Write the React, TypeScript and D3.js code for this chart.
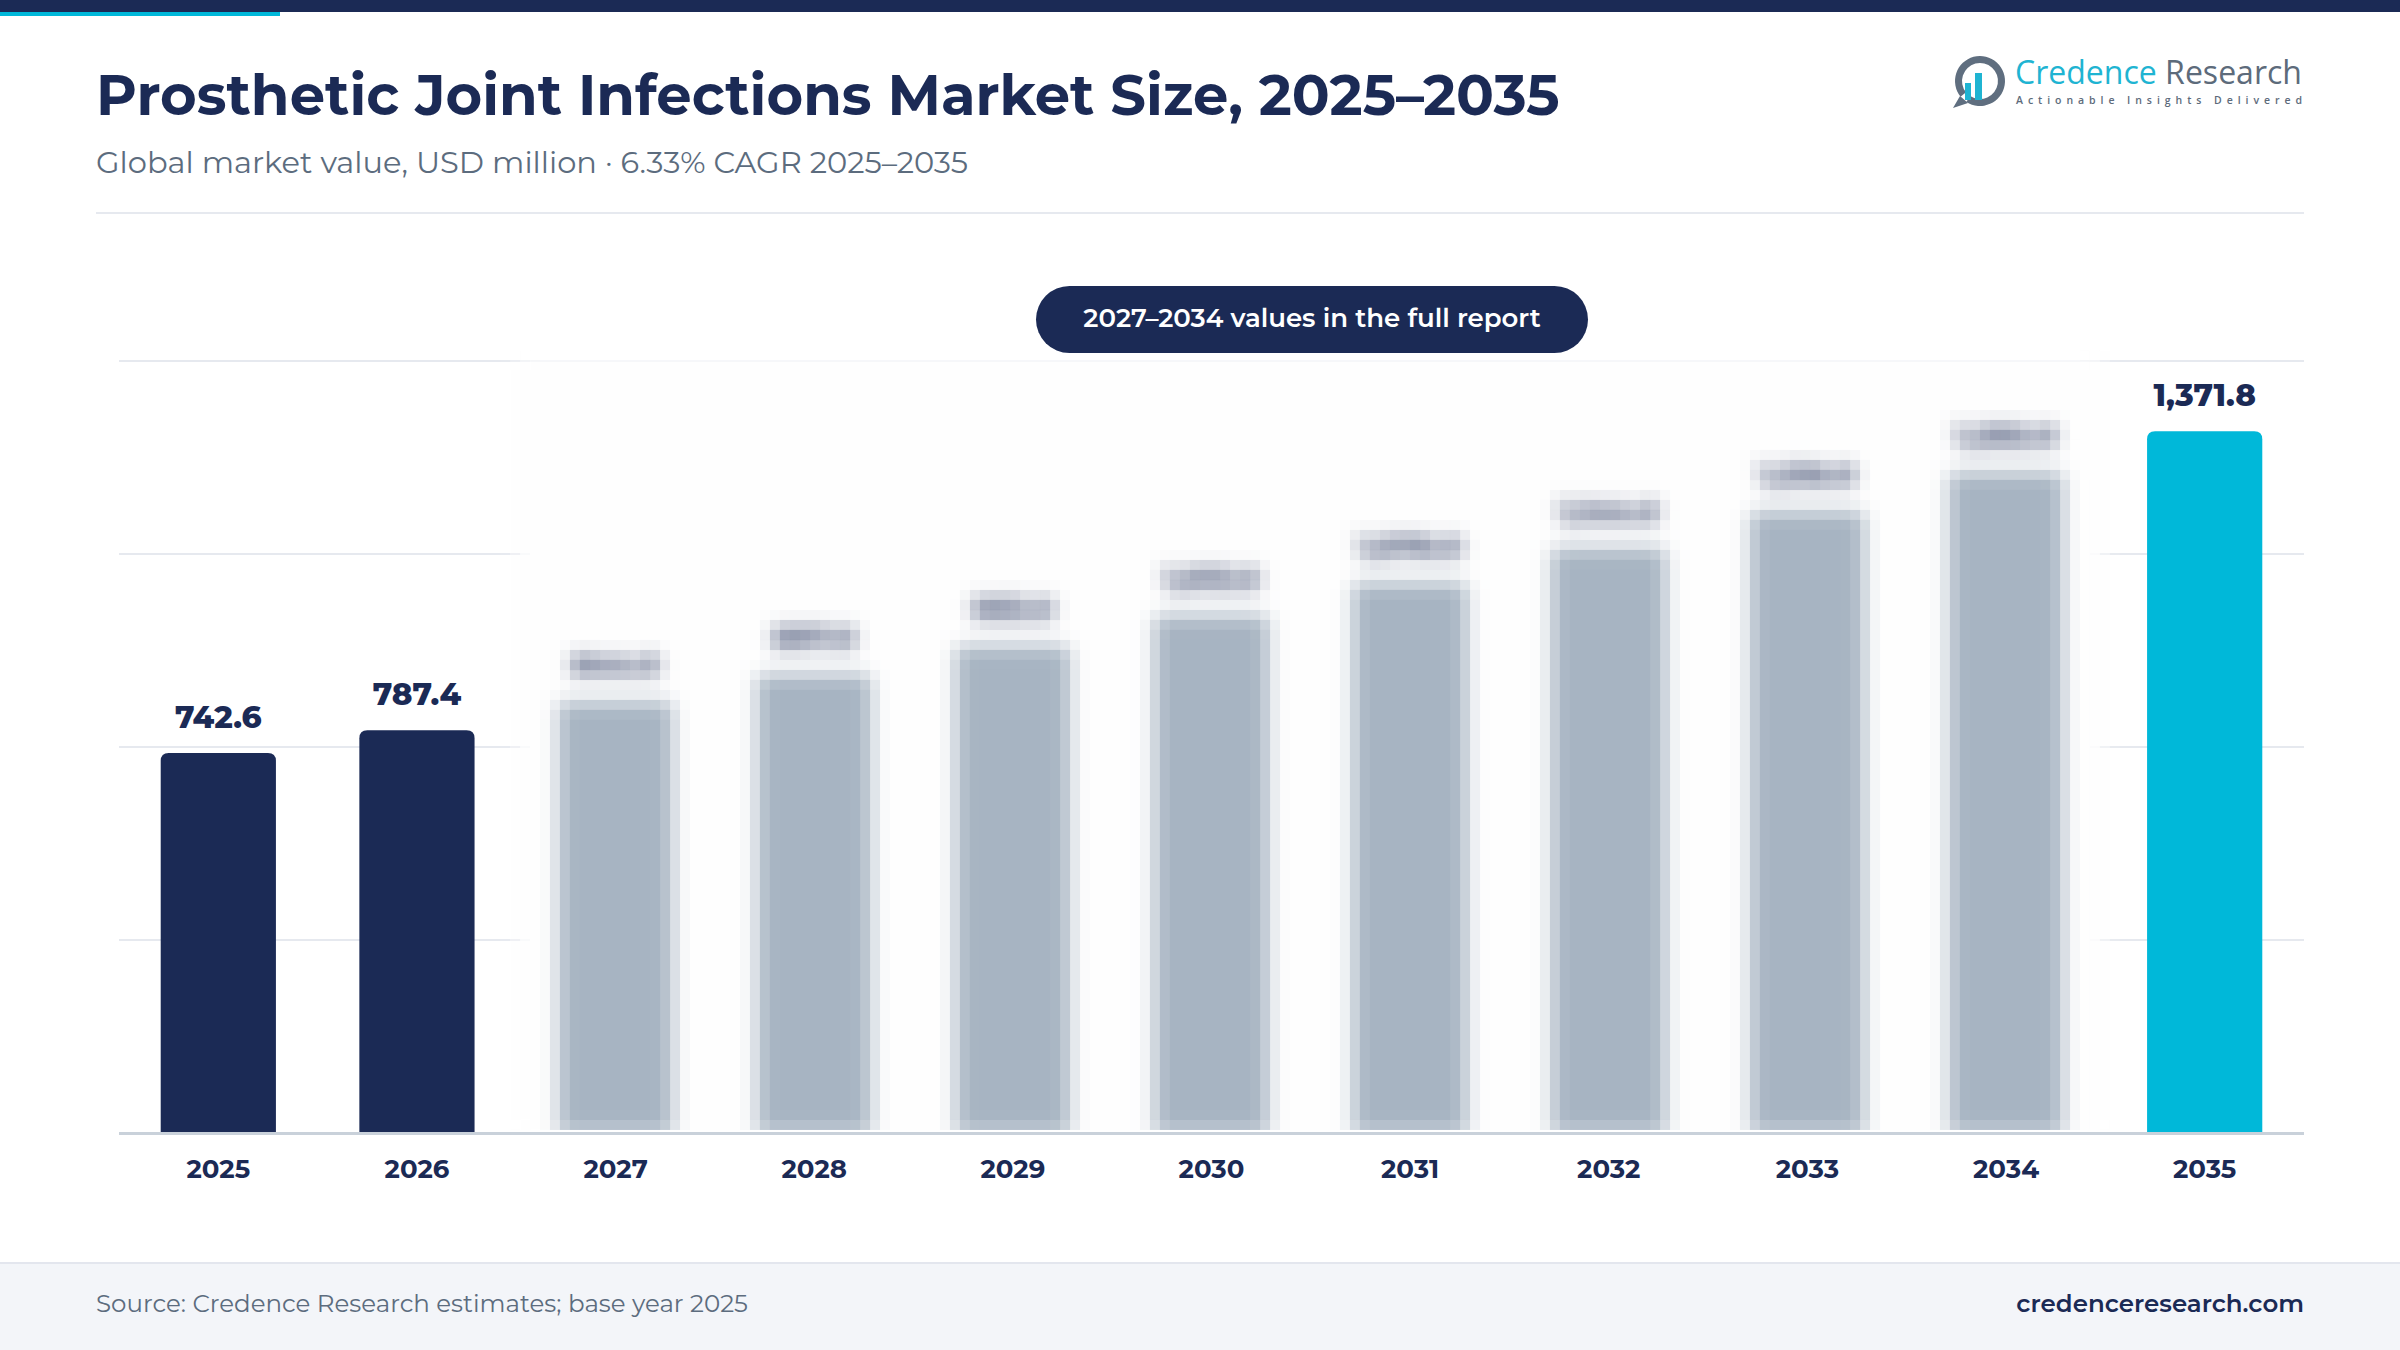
import React from "react";
import * as d3 from "d3";

// Market size, USD million
const years = ["2025", "2026", "2027", "2028", "2029", "2030", "2031", "2032", "2033", "2034", "2035"];
const values = [742.6, 787.4, 844, 897, 953, 1013, 1076, 1144, 1216, 1292, 1371.8];
// Years whose values are held back for the full report
const lockedYears = ["2027", "2028", "2029", "2030", "2031", "2032", "2033", "2034"];
const gridFractions = [0.25, 0.5, 0.75, 1];

const W = 2400;
const H = 1350;
const NAVY = "#1b2a55";
const CYAN = "#00b8d9";
const FONT = "Montserrat, Inter, 'Open Sans', sans-serif";

const plotLeft = 119;
const plotRight = 2304;
const baseY = 1133;
const topY = 361;

function topRoundedBar(x: number, y: number, w: number, h: number, r: number) {
  const rr = Math.min(r, h, w / 2);
  return `M${x},${y + h}V${y + rr}Q${x},${y} ${x + rr},${y}H${x + w - rr}Q${x + w},${y} ${x + w},${y + rr}V${y + h}Z`;
}

export default function App() {
  const x = d3.scaleBand<string>().domain(years).range([plotLeft, plotRight]).paddingInner(0.42).paddingOuter(0.21);
  const yMax = d3.max(values)! * 1.1;
  const y = d3.scaleLinear().domain([0, yMax]).range([baseY, topY]);
  const bw = x.bandwidth();
  const fmt = d3.format(",.1f");

  const data = years.map((yr, i) => ({ yr, v: values[i], locked: lockedYears.includes(yr) }));
  const locked = data.filter((d) => d.locked);
  const open = data.filter((d) => !d.locked);

  const lockX0 = x(lockedYears[0])! - 40;
  const lockX1 = x(lockedYears[lockedYears.length - 1])! + bw + 40;

  const ring = d3.arc()({ innerRadius: 18, outerRadius: 25, startAngle: -2.25, endAngle: 3.72 } as any) || "";

  return (
    <svg width={W} height={H} viewBox={`0 0 ${W} ${H}`} style={{ display: "block", position: "absolute", left: 0, top: 0 }}>
      <defs>
        <filter id="mosaic" filterUnits="userSpaceOnUse" primitiveUnits="userSpaceOnUse" x={500} y={300} width={1630} height={833} colorInterpolationFilters="sRGB">
          <feGaussianBlur in="SourceGraphic" stdDeviation={9} result="soft" />
          <feFlood x={504} y={304} width={2} height={2} floodColor="#000" floodOpacity={1} result="dot" />
          <feOffset in="dot" dx={0} dy={0} x={500} y={300} width={10} height={10} result="cell" />
          <feTile in="cell" x={500} y={300} width={1630} height={833} result="grid" />
          <feComposite in="soft" in2="grid" operator="in" x={500} y={300} width={1630} height={833} result="sampled" />
          <feMorphology in="sampled" operator="dilate" radius={4} x={500} y={300} width={1630} height={833} />
        </filter>
      </defs>

      <rect x={0} y={0} width={W} height={H} fill="#ffffff" />

      {/* top strip */}
      <rect x={0} y={0} width={W} height={12} fill={NAVY} />
      <rect x={0} y={12} width={280} height={4} fill={CYAN} />

      {/* header */}
      <text x={96} y={115} fontFamily={FONT} fontWeight={700} fontSize={56} fill={NAVY}>
        Prosthetic Joint Infections Market Size, 2025–2035
      </text>
      <text x={96} y={173} fontFamily={FONT} fontWeight={400} fontSize={30.5} fill="#5c6c7e">
        Global market value, USD million · 6.33% CAGR 2025–2035
      </text>

      {/* brand mark */}
      <g>
        <path d={ring} transform="translate(1980,81)" fill="#5f6e7f" />
        <path d="M1960,96 L1953,108 L1968,103 Z" fill="#5f6e7f" />
        <rect x={1965} y={83} width={6} height={17} fill="#1fb4d2" />
        <rect x={1975} y={73} width={7} height={27} fill="#1fb4d2" />
        <text x={2015} y={84} fontFamily="'Open Sans', sans-serif" fontSize={32} fill="#5d6b7b" textLength={287} lengthAdjust="spacingAndGlyphs">
          <tspan fill="#1fb4d2">Credence</tspan> Research
        </text>
        <text x={2016} y={104} fontFamily="'Open Sans', sans-serif" fontWeight={600} fontSize={10.5} fill="#5d6b7b" textLength={286} lengthAdjust="spacing">
          Actionable Insights Delivered
        </text>
      </g>

      <rect x={96} y={212} width={2208} height={2} fill="#e6e9ef" />

      {/* gridlines */}
      {gridFractions.map((f) => (
        <rect key={f} x={plotLeft} y={y(yMax * f) - 1} width={plotRight - plotLeft} height={2} fill="#e6e9ef" />
      ))}

      {/* withheld years, obscured */}
      <g filter="url(#mosaic)">
        <rect x={lockX0} y={topY} width={lockX1 - lockX0} height={baseY - topY} fill="#fefefe" />
        {locked.map((d) => (
          <g key={d.yr}>
            <path d={topRoundedBar(x(d.yr)!, y(d.v), bw, baseY - y(d.v), 8)} fill="#a7b4c2" />
            <text x={x(d.yr)! + bw / 2} y={y(d.v) - 26} textAnchor="middle" fontFamily={FONT} fontWeight={800} fontSize={29} fill={NAVY}>
              {fmt(d.v)}
            </text>
          </g>
        ))}
      </g>

      {/* visible bars */}
      {open.map((d) => (
        <g key={d.yr}>
          <path d={topRoundedBar(x(d.yr)!, y(d.v), bw, baseY - y(d.v), 8)} fill={d.yr === "2035" ? CYAN : NAVY} />
          <text x={x(d.yr)! + bw / 2} y={y(d.v) - 25} textAnchor="middle" fontFamily={FONT} fontWeight={800} fontSize={31} fill={NAVY}>
            {fmt(d.v)}
          </text>
        </g>
      ))}

      {/* baseline */}
      <rect x={plotLeft} y={baseY - 1} width={plotRight - plotLeft} height={3} fill="#c9d1da" />

      {/* year labels */}
      {years.map((yr) => (
        <text key={yr} x={x(yr)! + bw / 2} y={1178} textAnchor="middle" fontFamily={FONT} fontWeight={700} fontSize={26} fill={NAVY}>
          {yr}
        </text>
      ))}

      {/* notice pill */}
      <rect x={1036} y={286} width={552} height={67} rx={33.5} fill={NAVY} />
      <text x={1312} y={327} textAnchor="middle" fontFamily={FONT} fontWeight={600} fontSize={26} fill="#ffffff">
        2027–2034 values in the full report
      </text>

      {/* footer */}
      <rect x={0} y={1262} width={W} height={H - 1262} fill="#f3f5f9" />
      <rect x={0} y={1262} width={W} height={2} fill="#e3e6ee" />
      <text x={96} y={1312} fontFamily={FONT} fontWeight={400} fontSize={24.5} fill="#5c6c7e">
        Source: Credence Research estimates; base year 2025
      </text>
      <text x={2304} y={1312} textAnchor="end" fontFamily={FONT} fontWeight={600} fontSize={24.5} fill={NAVY}>
        credenceresearch.com
      </text>
    </svg>
  );
}
